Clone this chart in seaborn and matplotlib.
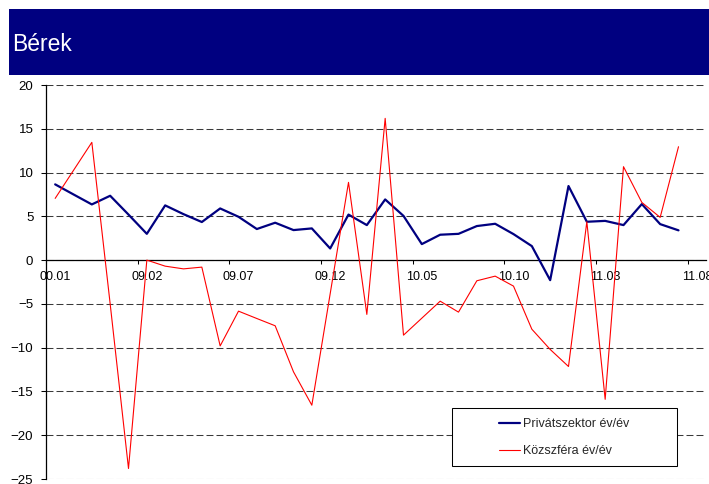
import numpy as np
import pandas as pd
import matplotlib
matplotlib.use("Agg")
import matplotlib.pyplot as plt
import seaborn as sns
from matplotlib.patches import Rectangle

# Monthly year-on-year wage growth, 2008.09 - 2011.07
private_sector = [8.65, 7.5, 6.36, 7.35, 5.2, 3.0, 6.25, 5.25, 4.35, 5.9,
                  4.95, 3.55, 4.27, 3.43, 3.62, 1.33, 5.2, 4.0, 6.93, 5.05,
                  1.83, 2.9, 3.0, 3.89, 4.15, 2.97, 1.6, -2.29, 8.46, 4.38,
                  4.48, 4.0, 6.4, 4.11, 3.4]
public_sector = [7.05, 10.25, 13.45, -5.0, -23.8, 0.0, -0.69, -1.0, -0.8, -9.8,
                 -5.83, -6.67, -7.5, -12.76, -16.57, -3.85, 8.88, -6.2, 16.19, -8.57,
                 -6.63, -4.69, -5.94, -2.36, -1.83, -2.97, -7.89, -10.2, -12.15, 4.38,
                 -15.9, 10.67, 6.59, 4.88, 12.95]

n_categories = 36
tick_labels = ["00.01", "09.02", "09.07", "09.12", "10.05", "10.10", "11.03", "11.08"]
series_names = ["Privátszektor év/év", "Közszféra év/év"]
title = "Bérek"

NAVY = "#000080"
RED = "#FF0000"

sns.set_style("white")
plt.rcParams["font.family"] = ["Liberation Sans", "DejaVu Sans"]
plt.rcParams["lines.scale_dashes"] = False

W, H = 709, 484
fig = plt.figure(figsize=(W / 100, H / 100), dpi=100)
fig.patch.set_facecolor("white")

# plot area in pixel coordinates
left, right, top, bottom = 46, 706, 85, 479
ax = fig.add_axes([left / W, 1 - bottom / H, (right - left) / W, (bottom - top) / H])
ax.set_facecolor("white")

pos = np.arange(len(private_sector)) + 0.5
df = pd.DataFrame({
    "pos": np.concatenate([pos, pos]),
    "value": private_sector + public_sector,
    "series": [series_names[0]] * len(pos) + [series_names[1]] * len(pos),
})

sns.lineplot(data=df[df.series == series_names[0]], x="pos", y="value",
             color=NAVY, linewidth=1.6, ax=ax, legend=False, zorder=3)
sns.lineplot(data=df[df.series == series_names[1]], x="pos", y="value",
             color=RED, linewidth=0.8, ax=ax, legend=False, zorder=3)

ax.set_xlim(0, n_categories)
ax.set_ylim(-25, 20)
ax.set_xlabel("")
ax.set_ylabel("")

# y axis
ax.set_yticks(np.arange(-25, 21, 5))
ax.yaxis.grid(True, color="#3a3a3a", linewidth=0.75, linestyle=(0, (5.0, 2.2)))
ax.xaxis.grid(False)
ax.set_axisbelow(True)
ax.tick_params(axis="y", which="major", direction="out", length=3.6, width=0.75,
               color="black", pad=5.5, labelsize=9.5, labelcolor="black", left=True)

# x axis at zero: tick marks between categories, labels centred on categories
ax.set_xticks(np.arange(0, n_categories + 1, 5))
ax.set_xticklabels([])
ax.set_xticks(np.arange(0, n_categories, 5) + 0.5, minor=True)
ax.set_xticklabels(tick_labels, minor=True)
ax.tick_params(axis="x", which="major", direction="out", length=3, width=0.75,
               color="black", bottom=True)
ax.tick_params(axis="x", which="minor", length=0, pad=7.5, labelsize=9,
               labelcolor="black", bottom=True)

for s in ["top", "right"]:
    ax.spines[s].set_visible(False)
ax.spines["bottom"].set_position(("data", 0))
ax.spines["bottom"].set_color("black")
ax.spines["bottom"].set_linewidth(0.9)
ax.spines["bottom"].set_zorder(2.5)
ax.spines["left"].set_color("black")
ax.spines["left"].set_linewidth(0.9)

# title banner
fig.patches.append(Rectangle((9 / W, 1 - 75 / H), (W - 9) / W, 66 / H,
                             transform=fig.transFigure, facecolor=NAVY,
                             edgecolor="none", zorder=0))
fig.text(12 / W, 1 - 44.5 / H, title, color="white", fontsize=16.5,
         ha="left", va="center")

# legend box
lx0, lx1, ly0, ly1 = 451.7, 677.3, 408.3, 466.0
ax.add_patch(Rectangle((lx0 / W, 1 - ly1 / H), (lx1 - lx0) / W, (ly1 - ly0) / H,
                       transform=fig.transFigure, facecolor="white",
                       edgecolor="black", linewidth=0.75, zorder=4,
                       clip_on=False))
handles = ax.get_lines()[:2]
leg = ax.legend(handles, series_names, loc="center left",
                bbox_to_anchor=(499.3 / W, 1 - 437.8 / H),
                bbox_transform=fig.transFigure, frameon=False,
                fontsize=9, handlelength=1.66, handletextpad=0.22,
                labelspacing=1.2, borderpad=0, borderaxespad=0)
leg.set_zorder(5)

fig.savefig("out.png", dpi=100, facecolor="white")
